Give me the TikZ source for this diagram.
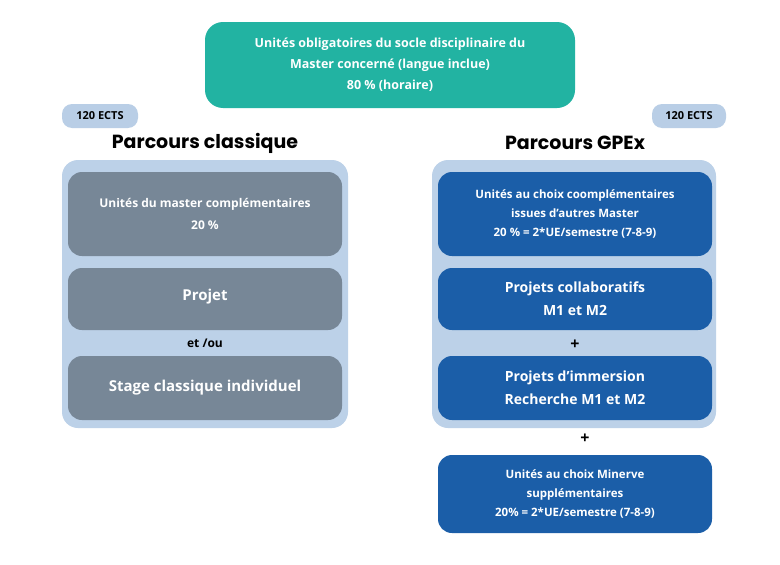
\documentclass[tikz,border=0pt]{standalone}
\usepackage{fontspec}
\setmainfont{Open Sans}
\newfontfamily\titlefont{Poppins}
\definecolor{teal1}{HTML}{22B3A2}
\definecolor{panel}{HTML}{BCD1E8}
\definecolor{grayb}{HTML}{778797}
\definecolor{blueb}{HTML}{1B5EA8}
\definecolor{pill}{HTML}{B9CEE6}
\begin{document}
\begin{tikzpicture}[x=1pt,y=-1pt,
  box/.style={rounded corners=14pt,text=white,font=\bfseries,align=center},
  grayx/.style={box,fill=grayb},
  bluex/.style={box,fill=blueb},
  lbl/.style={font=\bfseries\fontsize{12}{14}\selectfont,text=black}]
\useasboundingbox (0,0) rectangle (780,565);
\fill[white] (0,0) rectangle (780,565);
% top
\fill[teal1,rounded corners=18pt] (205,22) rectangle (575,108);
\node[box,font=\bfseries\fontsize{12.5}{21}\selectfont] (top) at (390,65) {Unités obligatoires du socle disciplinaire du\\Master concerné (langue inclue)\\80 \% (horaire)};
% pills
\fill[pill,rounded corners=10pt] (62,104) rectangle (138,128);
\node[font=\bfseries\fontsize{11}{13}\selectfont] (ectsL) at (100,116) {120 ECTS};
\fill[pill,rounded corners=10pt] (652,104) rectangle (726,128);
\node[font=\bfseries\fontsize{11}{13}\selectfont] (ectsR) at (689,116) {120 ECTS};
% titles
\node[font=\titlefont\bfseries\fontsize{19}{22}\selectfont] (tL) at (205,143) {Parcours classique};
\node[font=\titlefont\bfseries\fontsize{19}{22}\selectfont] (tR) at (575,143) {Parcours GPEx};
% panels
\fill[panel,rounded corners=16pt] (62,160) rectangle (348,428);
\fill[panel,rounded corners=16pt] (432,160) rectangle (716,428);
% left boxes
\fill[grayb,rounded corners=14pt] (68,172) rectangle (342,256);
\node[box,font=\bfseries\fontsize{12}{22}\selectfont] (l1) at (205,214) {Unités du master complémentaires\\20 \%};
\fill[grayb,rounded corners=14pt] (68,268) rectangle (342,330);
\node[box,font=\bfseries\fontsize{15}{18}\selectfont] (l2) at (205,297) {Projet};
\node[lbl] (etou) at (205,343) {et /ou};
\fill[grayb,rounded corners=14pt] (68,356) rectangle (342,420);
\node[box,font=\bfseries\fontsize{15}{18}\selectfont] (l3) at (205,388) {Stage classique individuel};
% right boxes
\fill[blueb,rounded corners=14pt] (438,172) rectangle (712,256);
\node[box,font=\bfseries\fontsize{11.5}{19}\selectfont] (r1) at (575,214) {Unités au choix coomplémentaires\\issues d’autres Master\\20 \% = 2*UE/semestre (7-8-9)};
\fill[blueb,rounded corners=14pt] (438,268) rectangle (712,330);
\node[box,font=\bfseries\fontsize{14}{23}\selectfont] (r2) at (575,299) {Projets collaboratifs\\M1 et M2};
\node[font=\bfseries\fontsize{16}{18}\selectfont] (p1) at (575,345) {+};
\fill[blueb,rounded corners=14pt] (438,356) rectangle (712,420);
\node[box,font=\bfseries\fontsize{14}{23}\selectfont] (r3) at (575,388) {Projets d’immersion\\Recherche M1 et M2};
\node[font=\bfseries\fontsize{16}{18}\selectfont] (p2) at (585,439) {+};
\fill[blueb,rounded corners=14pt] (438,455) rectangle (712,533);
\node[box,font=\bfseries\fontsize{11.5}{19}\selectfont] (r4) at (575,494) {Unités au choix Minerve\\supplémentaires\\20\% = 2*UE/semestre (7-8-9)};
\end{tikzpicture}
\end{document}
